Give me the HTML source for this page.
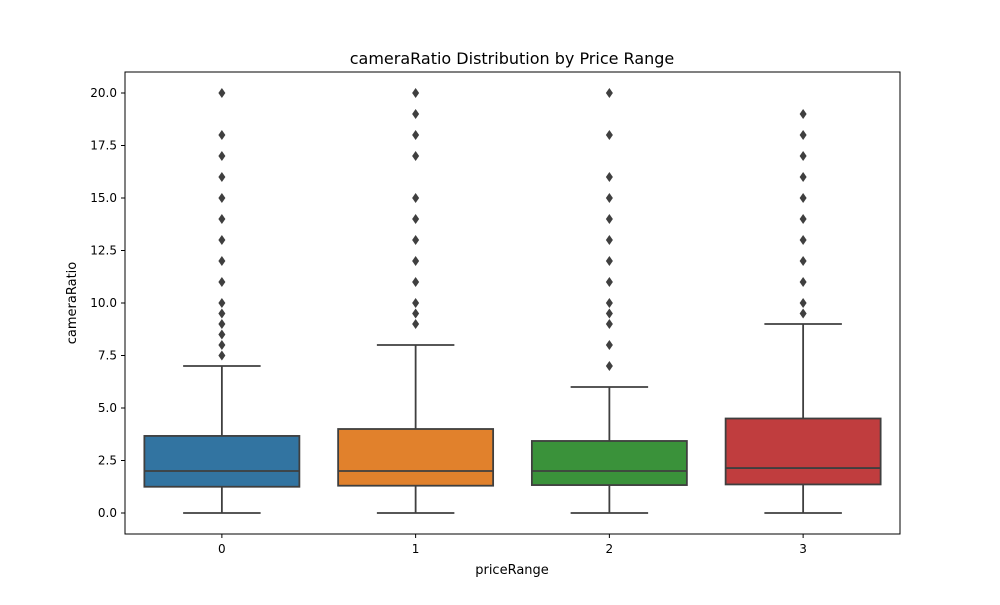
<!DOCTYPE html>
<html><head><meta charset="utf-8"><style>
body{margin:0;background:#fff;font-family:"Liberation Sans","DejaVu Sans",sans-serif;}
svg text{font-family:"DejaVu Sans","Liberation Sans",sans-serif;}
</style></head><body>
<svg id="chart" width="1000" height="600" viewBox="0 0 1000 600" xmlns="http://www.w3.org/2000/svg">
<rect width="1000" height="600" fill="#fff"/>
<text x="512" y="64" font-size="16" text-anchor="middle">cameraRatio Distribution by Price Range</text>
<g id="plot"></g>
<rect x="125" y="72" width="775" height="462" fill="none" stroke="#000" stroke-width="1"/>
<text x="512" y="574" font-size="13" text-anchor="middle">priceRange</text>
<text x="76" y="303" font-size="13" text-anchor="middle" transform="rotate(-90 76 303)">cameraRatio</text>
</svg>
<script>
const categories = ["0","1","2","3"];
const q1 = [1.25, 1.3, 1.33, 1.36];
const medians = [2.0, 2.0, 2.0, 2.14];
const q3 = [3.67, 4.0, 3.43, 4.5];
const whiskLow = [0, 0, 0, 0];
const whiskHigh = [7, 8, 6, 9];
const outliers = [
 [7.5,8,8.5,9,9.5,10,11,12,13,14,15,16,17,18,20],
 [9,9.5,10,11,12,13,14,15,17,18,19,20],
 [7,8,9,9.5,10,11,12,13,14,15,16,18,20],
 [9.5,10,11,12,13,14,15,16,17,18,19]
];
const yTicks = [0,2.5,5,7.5,10,12.5,15,17.5,20];
const colors = ["#3274a1","#e1812c","#3a923a","#c03d3e"];

const NS="http://www.w3.org/2000/svg";
const L=125,R=900,T=72,B=534;
const y=v=>513-v*21;
const band=(R-L)/categories.length;
const x=i=>L+band*(i+0.5);
const g=document.getElementById('plot');
function mk(tag,attrs){const e=document.createElementNS(NS,tag);for(const k in attrs)e.setAttribute(k,attrs[k]);g.appendChild(e);return e;}
yTicks.forEach(t=>{
  const l=mk('line',{x1:L-4,x2:L,y1:y(t),y2:y(t),stroke:'#000'});
  
  
  const tx=mk('text',{x:L-8,y:y(t)+4,'font-size':12,'text-anchor':'end'});
  tx.textContent=t.toFixed(1);
  
  
});
categories.forEach((c,i)=>{
  const cx=x(i),hw=band*0.4,lc='#3f3f3f';
  const tk=mk('line',{x1:cx,x2:cx,y1:B,y2:B+4,stroke:'#000'});
  
  
  const tl=mk('text',{x:cx,y:B+19,'font-size':12,'text-anchor':'middle'});
  tl.textContent=c;
  
  
  const w1=mk('line',{x1:cx,x2:cx,y1:y(whiskLow[i]),y2:y(q1[i]),stroke:lc,'stroke-width':1.8});
  
  
  const w2=mk('line',{x1:cx,x2:cx,y1:y(q3[i]),y2:y(whiskHigh[i]),stroke:lc,'stroke-width':1.8});
  
  
  const c1=mk('line',{x1:cx-hw/2,x2:cx+hw/2,y1:y(whiskLow[i]),y2:y(whiskLow[i]),stroke:lc,'stroke-width':1.8});
  
  
  const c2=mk('line',{x1:cx-hw/2,x2:cx+hw/2,y1:y(whiskHigh[i]),y2:y(whiskHigh[i]),stroke:lc,'stroke-width':1.8});
  
  
  const bx=mk('rect',{x:cx-hw,y:y(q3[i]),width:hw*2,height:y(q1[i])-y(q3[i]),fill:colors[i],stroke:lc,'stroke-width':1.8});
  
  
  const md=mk('line',{x1:cx-hw,x2:cx+hw,y1:y(medians[i]),y2:y(medians[i]),stroke:lc,'stroke-width':1.8});
  
  
  outliers[i].forEach(v=>{
    const yy=y(v);
    const p=mk('polygon',{points:`${cx},${yy-5} ${cx+3.5},${yy} ${cx},${yy+5} ${cx-3.5},${yy}`,fill:lc});
    
    
  });
});
</script>
</body></html>
